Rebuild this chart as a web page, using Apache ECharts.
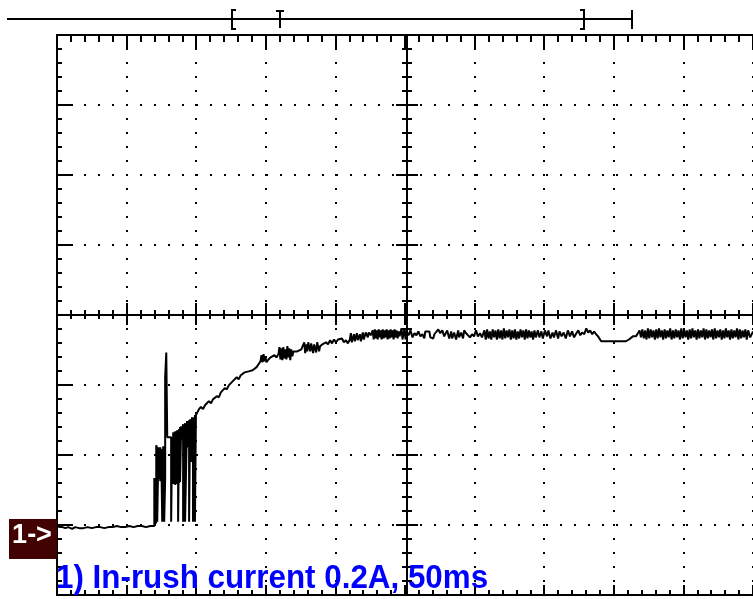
<!DOCTYPE html>
<html>
<head>
<meta charset="utf-8">
<title>In-rush current</title>
<script src="https://cdn.jsdelivr.net/npm/echarts@6/dist/echarts.min.js"></script>
<style>
  html, body { margin: 0; padding: 0; background: #fff; }
  #scope { width: 753px; height: 599px; }
</style>
</head>
<body>
<div id="scope"></div>
<script>
// time in ms (50 ms/div), current in mA (200 mA/div)
const timeTicks = [0, 50, 100, 150, 200, 250, 300, 350, 400, 450, 500];
const currentTicks = [-200, 0, 200, 400, 600, 800, 1000, 1200, 1400];

const baseline = [
  [0, -3], [2, -6], [4, -6], [6, -9], [8, -6], [11, -11], [13, -6], [16, -9], [19, -9],
  [22, -6], [25, -9], [28, -6], [31, -6], [34, -9], [37, -6], [40, -6], [43, -3], [46, -6],
  [49, -6], [52, -3], [55, -6], [58, -3], [61, -3], [64, -6], [67, -3], [69.9, -3]
];

const inrush = [
  [69.9, 134], [70.6, 134], [70.6, 3], [71.3, 9], [71.3, 228], [72.0, 217], [72.0, 9],
  [72.8, 197], [72.8, 222], [73.5, 131], [73.5, 217], [74.2, 125], [74.2, 222], [74.9, 137],
  [74.9, 211], [75.6, 9], [75.6, 217], [76.3, 123], [76.3, 225], [77.0, 131], [77.0, 9],
  [77.7, 131], [77.7, 422], [78.5, 422], [78.5, 493], [79.2, 493], [79.2, 251], [82.0, 251],
  [82.0, 9], [82.7, 245], [82.7, 117], [83.5, 265], [83.5, 117], [84.2, 262], [84.2, 123],
  [84.9, 268], [84.9, 114], [85.6, 265], [85.6, 125], [86.3, 271], [86.3, 117], [87.0, 268],
  [87.0, 9], [87.7, 274], [87.7, 120], [88.4, 280], [88.4, 123], [89.2, 282], [89.2, 245],
  [90.6, 288], [90.6, 9], [91.3, 288], [91.3, 231], [92.0, 291], [92.0, 9], [93.4, 297],
  [93.4, 222], [94.9, 299], [94.9, 9], [95.6, 302], [96.3, 302], [96.3, 180], [97.0, 308],
  [97.0, 180], [97.7, 308], [97.7, 9], [99.1, 314], [99.1, 9], [99.8, 314], [100.6, 317]
];

const rise = [
  [102.0, 331], [103.4, 337], [104.9, 331], [106.3, 342], [107.7, 345], [109.1, 354],
  [110.6, 348], [112.0, 359], [113.4, 357], [114.8, 368], [116.3, 365], [117.7, 379],
  [119.1, 374], [120.5, 391], [122.0, 388], [123.4, 399], [124.8, 396], [126.3, 411],
  [127.7, 408], [129.1, 422], [130.5, 416], [132.0, 428], [133.4, 425], [134.8, 436],
  [136.2, 434], [137.7, 439], [139.1, 434], [140.5, 442], [141.9, 439], [143.4, 451],
  [144.8, 448], [146.2, 468], [146.9, 485], [147.7, 465], [148.4, 488], [149.1, 468],
  [149.8, 479], [150.5, 465], [151.9, 473], [153.4, 479], [154.8, 476], [156.2, 485],
  [157.6, 479], [159.1, 488], [159.8, 508], [160.5, 473], [161.2, 505], [161.9, 471],
  [162.6, 508], [163.3, 476], [164.1, 502], [164.8, 473], [165.5, 511], [166.2, 479],
  [166.9, 505], [167.6, 471], [168.3, 502], [169.1, 482], [169.8, 496], [171.2, 491],
  [172.6, 496], [174.0, 493], [175.5, 502], [176.9, 499], [177.6, 522], [178.3, 491],
  [179.0, 516], [179.8, 496], [180.5, 522], [181.9, 496], [182.6, 519], [184.0, 491],
  [184.7, 516], [186.2, 493], [186.9, 522], [188.3, 496], [189.0, 511], [190.5, 516],
  [191.9, 511], [193.3, 522], [194.7, 516], [196.2, 528], [197.6, 519], [199.0, 530],
  [200.4, 522], [201.9, 530], [203.3, 525], [204.7, 533], [206.1, 522], [207.6, 528],
  [209.0, 519], [210.4, 530], [211.1, 548], [211.8, 522], [213.3, 545], [214.0, 525],
  [215.4, 548], [216.1, 528], [217.6, 545], [218.3, 525], [219.7, 550], [220.4, 530],
  [221.8, 550], [223.3, 536], [224.0, 550], [225.4, 542], [226.8, 556], [227.5, 530],
  [228.3, 559], [229.0, 533], [229.7, 556], [230.4, 530], [231.1, 559], [231.8, 536],
  [232.5, 556], [233.2, 530], [234.0, 559], [234.7, 533], [235.4, 556], [236.1, 536],
  [236.8, 559], [237.5, 530], [238.2, 556], [239.0, 533], [239.7, 559], [240.4, 536],
  [241.1, 556], [241.8, 530], [242.5, 559], [243.2, 536], [243.9, 556], [244.7, 533],
  [245.4, 553], [246.1, 539], [247.5, 562], [248.2, 530], [249.7, 562], [250.4, 530],
  [251.1, 553]
];

const plateau = [
  [252.5, 542], [253.9, 556], [255.4, 536], [256.8, 548], [258.2, 542], [259.6, 553],
  [261.1, 539], [262.5, 545], [263.9, 533], [264.6, 553], [267.5, 553], [268.2, 536],
  [270.3, 533], [271.1, 545], [272.5, 550], [273.9, 559], [275.3, 548], [276.8, 556],
  [278.2, 539], [279.6, 536], [280.3, 556], [281.8, 533], [283.2, 553], [283.9, 533],
  [285.3, 550], [286.7, 530], [288.2, 556], [288.9, 536], [290.3, 550], [291.7, 533],
  [292.5, 556], [293.9, 548], [295.3, 553], [296.7, 536], [298.2, 545], [299.6, 539],
  [301.0, 556], [302.4, 539], [303.9, 548], [305.3, 536],
  [306, 533], [307, 556], [308, 530], [309, 559], [310, 533], [311, 553], [312, 530],
  [313, 559], [314, 536], [315, 556], [316, 530], [317, 559], [318, 533], [319, 556],
  [320, 530], [321, 562], [322, 533], [323, 556], [324, 536], [325, 559], [326, 530],
  [327, 556], [328, 533], [329, 559], [330, 530], [331, 553], [332, 533], [333, 559],
  [334, 536], [335, 556], [336, 530], [337, 559], [338, 533], [339, 556], [340, 536],
  [341, 553], [342, 530], [343, 556], [344, 536],
  [345.5, 556], [346.5, 536], [348, 553], [349, 533], [350.5, 556], [352, 539], [353, 556],
  [354.5, 533], [356, 550], [357, 536], [358.5, 556], [360, 533], [361, 553], [362.5, 539],
  [364, 550], [365.5, 533], [367, 556], [368.5, 539], [370, 553], [371.5, 536],
  [373.1, 548], [374.5, 556], [375.9, 542], [377.3, 550], [378.8, 545], [380.2, 562],
  [381.6, 550], [383.0, 556], [384.5, 545], [385.9, 553], [387.3, 545],
  [388.7, 539], [390.9, 525], [408.7, 525], [410.9, 530], [413.7, 539], [415.9, 539],
  [417.3, 548]
];

const plateauEnd = [
  [418.5, 556], [419.5, 536], [420.5, 559], [421.5, 533], [422.5, 556], [423.5, 530],
  [424.5, 562], [425.5, 533], [426.5, 559], [427.5, 536], [428.5, 556], [429.5, 530],
  [430.5, 559], [431.5, 533], [432.5, 562], [433.5, 536], [434.5, 556], [435.5, 530],
  [436.5, 559], [437.5, 533], [438.5, 556], [439.5, 536], [440.5, 562], [441.5, 530],
  [442.5, 556], [443.5, 533], [444.5, 559], [445.5, 536], [446.5, 556], [447.5, 530],
  [448.5, 562], [449.5, 533], [450.5, 559], [451.5, 536], [452.5, 556], [453.5, 530],
  [454.5, 559], [455.5, 533], [456.5, 562], [457.5, 536], [458.5, 556], [459.5, 530],
  [460.5, 559], [461.5, 533], [462.5, 556], [463.5, 536], [464.5, 562], [465.5, 530],
  [466.5, 559], [467.5, 533], [468.5, 556], [469.5, 536], [470.5, 559], [471.5, 530],
  [472.5, 562], [473.5, 533], [474.5, 556], [475.5, 536], [476.5, 559], [477.5, 530],
  [478.5, 556], [479.5, 533], [480.5, 562], [481.5, 536], [482.5, 556], [483.5, 530],
  [484.5, 559], [485.5, 533], [486.5, 556], [487.5, 536], [488.5, 562], [489.5, 530],
  [490.5, 559], [491.5, 533], [492.5, 556], [493.5, 536], [494.5, 559], [495.5, 530],
  [496.5, 556], [498, 536], [500, 553]
];

const trace = [].concat(baseline, inrush, rise, plateau, plateauEnd);

const black = '#000';
const dotted = { color: black, width: 2, type: [2, 12], dashOffset: 1 };

function scaleAxis(ticks, extra) {
  return Object.assign({
    type: 'value',
    min: ticks[0],
    max: ticks[ticks.length - 1],
    interval: ticks[1] - ticks[0],
    axisLabel: { show: false },
    splitLine: { show: false },
    axisLine: { show: false, onZero: false },
    axisTick: { show: true, inside: true, length: 10, lineStyle: { color: black, width: 2 } },
    minorTick: { show: true, splitNumber: 5, length: 5, lineStyle: { color: black, width: 2 } }
  }, extra);
}

const frameLine = { show: true, onZero: false, lineStyle: { color: black, width: 2 } };

const chart = echarts.init(document.getElementById('scope'));

chart.setOption({
  animation: false,
  backgroundColor: '#fff',
  grid: { left: 57, top: 35, width: 700, height: 560, containLabel: false },
  xAxis: [
    scaleAxis(timeTicks, {
      position: 'top',
      axisLine: frameLine,
      axisTick: { show: true, inside: true, length: 15, lineStyle: { color: black, width: 2 } },
      minorTick: { show: true, splitNumber: 5, length: 7, lineStyle: { color: black, width: 2 } },
      splitLine: { show: true, lineStyle: dotted }
    }),
    scaleAxis(timeTicks, { position: 'bottom', axisLine: frameLine }),
    // centre cross, ticks on both sides
    scaleAxis(timeTicks, { position: 'bottom', offset: -280, axisLine: frameLine,
      axisTick: { show: true, inside: true, length: 12, lineStyle: { color: black, width: 2 } } }),
    scaleAxis(timeTicks, { position: 'bottom', offset: -280,
      axisTick: { show: true, inside: false, length: 10, lineStyle: { color: black, width: 2 } },
      minorTick: { show: true, inside: false, splitNumber: 5, length: 4, lineStyle: { color: black, width: 2 } } })
  ],
  yAxis: [
    scaleAxis(currentTicks, {
      position: 'left',
      axisLine: frameLine,
      axisTick: { show: true, inside: true, length: 16, lineStyle: { color: black, width: 2 } },
      splitLine: { show: true, lineStyle: dotted }
    }),
    scaleAxis(currentTicks, { position: 'left', offset: -350, axisLine: frameLine,
      axisTick: { show: true, inside: true, length: 11, lineStyle: { color: black, width: 2 } } }),
    scaleAxis(currentTicks, { position: 'left', offset: -350,
      axisTick: { show: true, inside: false, length: 11, lineStyle: { color: black, width: 2 } },
      minorTick: { show: true, inside: false, splitNumber: 5, length: 5, lineStyle: { color: black, width: 2 } } })
  ],
  series: [
    {
      type: 'line',
      xAxisIndex: 0,
      yAxisIndex: 0,
      data: trace,
      showSymbol: false,
      silent: true,
      sampling: null,
      lineStyle: { color: black, width: 2 },
      z: 5
    }
  ],
  graphic: [
    // memory position bar above the screen
    { type: 'line', shape: { x1: 7, y1: 19, x2: 632, y2: 19 }, style: { stroke: black, lineWidth: 2 } },
    { type: 'polyline', shape: { points: [[236, 10], [232, 10], [232, 29], [236, 29]] }, style: { stroke: black, lineWidth: 2, fill: null } },
    { type: 'line', shape: { x1: 276, y1: 11, x2: 284, y2: 11 }, style: { stroke: black, lineWidth: 2 } },
    { type: 'line', shape: { x1: 280, y1: 11, x2: 280, y2: 28 }, style: { stroke: black, lineWidth: 2 } },
    { type: 'polyline', shape: { points: [[580, 10], [584, 10], [584, 29], [580, 29]] }, style: { stroke: black, lineWidth: 2, fill: null } },
    { type: 'line', shape: { x1: 632, y1: 10, x2: 632, y2: 29 }, style: { stroke: black, lineWidth: 2 } },
    // channel marker
    { type: 'rect', shape: { x: 9, y: 519, width: 48, height: 40 }, style: { fill: '#420202' }, z: 10 },
    { type: 'text', x: 32, y: 536, z: 11,
      style: { text: '1->', fill: '#fff', font: 'bold 27px "Liberation Sans", Arial', align: 'center', verticalAlign: 'middle' } },
    { type: 'text', x: 56, y: 579, z: 11, scaleX: 0.95,
      style: { text: '1) In-rush current 0.2A, 50ms', fill: '#0000ff', font: 'bold 33px "Liberation Sans", Arial', align: 'left', verticalAlign: 'middle' } }
  ]
});
</script>
</body>
</html>
